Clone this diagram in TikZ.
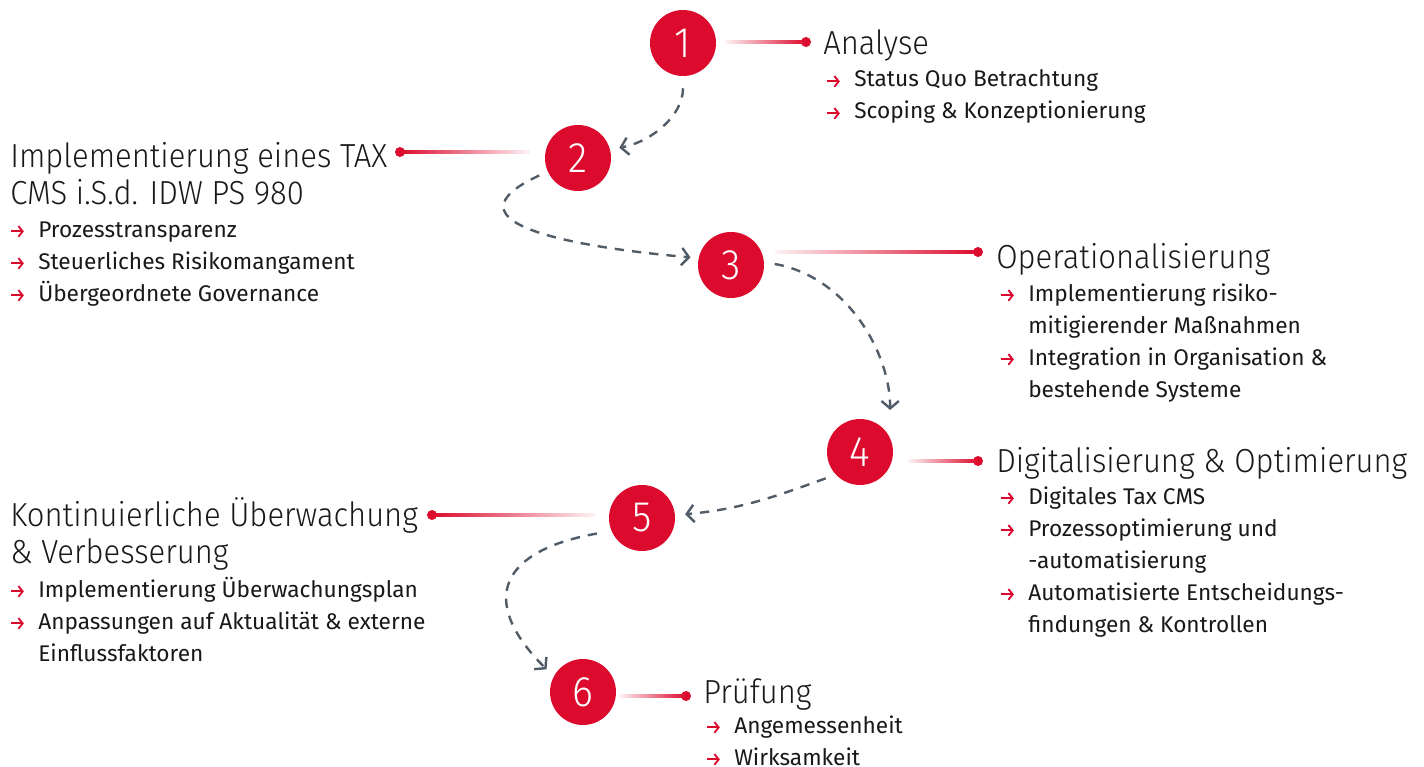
\documentclass[tikz,border=0pt]{standalone}
\usepackage{fontspec}
\setmainfont{Fira Sans}
\newfontfamily\lightfont{Fira Sans Light}[FakeStretch=0.93]
\usetikzlibrary{positioning, arrows.meta, calc}
\definecolor{tred}{RGB}{220,10,45}
\definecolor{tgray}{RGB}{80,92,104}
\definecolor{tink}{RGB}{25,25,25}
\newcommand{\bul}{\makebox[21pt][l]{\tikz[baseline=0pt]\draw[tred, line width=1.4pt, -{Straight Barb[length=3.2pt,width=8pt]}] (0pt,4.2pt) -- (9.5pt,4.2pt);}}
\tikzset{
  num/.style={circle, fill=tred, text=white, minimum size=49.5pt, inner sep=0pt, font=\lightfont\fontsize{32}{32}\selectfont},
  dot/.style={circle, fill=tred, minimum size=7.5pt, inner sep=0pt},
  flow/.style={draw=tgray, line width=1.8pt, dash pattern=on 7pt off 6pt, -{Straight Barb[length=5.5pt,width=13pt]}},
  title/.style={anchor=base west, inner sep=0pt, text=tink, font=\lightfont\fontsize{25}{27.75}\selectfont},
  items/.style={anchor=base west, inner sep=0pt, text=tink, font=\fontsize{17}{24}\selectfont}
}

\begin{document}
\begin{tikzpicture}[x=0.75pt, y=-0.75pt]
\useasboundingbox (0,0) rectangle (1424,767);

% step circles
\node[num] (c1) at (683,43) {1};
\node[num] (c2) at (578,158) {2};
\node[num] (c3) at (731,265) {3};
\node[num] (c4) at (860,452) {4};
\node[num] (c5) at (642,518) {5};
\node[num] (c6) at (583,692) {6};

% end dots
\node[dot] (d1) at (806,42) {};
\node[dot] (d2) at (400,152) {};
\node[dot] (d3) at (978,252) {};
\node[dot] (d4) at (978,461) {};
\node[dot] (d5) at (432,515) {};
\node[dot] (d6) at (686,696) {};

% gradient lines
\shade[left color=tred!5, right color=tred] ($(c1.east |- d1)+(9,-1.5)$) rectangle ($(d1)+(0,1.5)$);
\shade[left color=tred, right color=tred!5] ($(d2)+(0,-1.5)$) rectangle ($(c2.west |- d2)+(-15,1.5)$);
\shade[left color=tred!5, right color=tred] ($(c3.east |- d3)+(11,-1.5)$) rectangle ($(d3)+(0,1.5)$);
\shade[left color=tred!5, right color=tred] ($(c4.east |- d4)+(15,-1.5)$) rectangle ($(d4)+(0,1.5)$);
\shade[left color=tred, right color=tred!5] ($(d5)+(0,-1.5)$) rectangle ($(c5.west |- d5)+(-14,1.5)$);
\shade[left color=tred!5, right color=tred] ($(c6.east |- d6)+(3,-1.5)$) rectangle ($(d6)+(0,1.5)$);

% dashed path
\draw[flow, shorten <=9pt, shorten >=7pt] (c1.south) to[out=-90, in=10] (c2.15);
\draw[flow, shorten <=7pt, shorten >=6pt] (c2.204) to[out=205, in=175, looseness=1.8] (c3.168);
\draw[flow, shorten <=8pt, shorten >=21pt] (c3.5) to[out=-10, in=90] (c4.25);
\draw[flow, shorten <=8pt, shorten >=7.5pt] (c4.223) to[out=200, in=5] (c5.5);
\draw[flow, shorten <=11pt, shorten >=7.5pt] (c5.203) to[out=190, in=135, looseness=1.8] (c6.152);

% texts
\node[title] (t1) at (823,55) {Analyse};
\node[items] (i1) at (826,87) {\begin{tabular}[t]{@{}l@{}l@{}}
\bul & Status Quo Betrachtung\\
\bul & Scoping \& Konzeptionierung
\end{tabular}};

\node[title] (t2) at (10,167) {\begin{tabular}[t]{@{}l@{}}
Implementierung eines TAX\\
CMS i.S.d. IDW PS 980
\end{tabular}};
\node[items] (i2) at (10,237) {\begin{tabular}[t]{@{}l@{}l@{}}
\bul & Prozesstransparenz\\
\bul & Steuerliches Risikomangament\\
\bul & Übergeordnete Governance
\end{tabular}};

\node[title] (t3) at (996,268) {Operationalisierung};
\node[items] (i3) at (1000,301) {\begin{tabular}[t]{@{}l@{}l@{}}
\bul & Implementierung risiko-\\
 & mitigierender Maßnahmen\\
\bul & Integration in Organisation \&\\
 & bestehende Systeme
\end{tabular}};

\node[title] (t4) at (996,472) {Digitalisierung \& Optimierung};
\node[items] (i4) at (1000,504) {\begin{tabular}[t]{@{}l@{}l@{}}
\bul & Digitales Tax CMS\\
\bul & Prozessoptimierung und\\
 & -automatisierung\\
\bul & Automatisierte Entscheidungs-\\
 & findungen \& Kontrollen
\end{tabular}};

\node[title] (t5) at (10,526) {\begin{tabular}[t]{@{}l@{}}
Kontinuierliche Überwachung\\
\& Verbesserung
\end{tabular}};
\node[items] (i5) at (10,597) {\begin{tabular}[t]{@{}l@{}l@{}}
\bul & Implementierung Überwachungsplan\\
\bul & Anpassungen auf Aktualität \& externe\\
 & Einflussfaktoren
\end{tabular}};

\node[title] (t6) at (703,703) {Prüfung};
\node[items] (i6) at (706,733) {\begin{tabular}[t]{@{}l@{}l@{}}
\bul & Angemessenheit\\
\bul & Wirksamkeit
\end{tabular}};

\end{tikzpicture}
\end{document}
